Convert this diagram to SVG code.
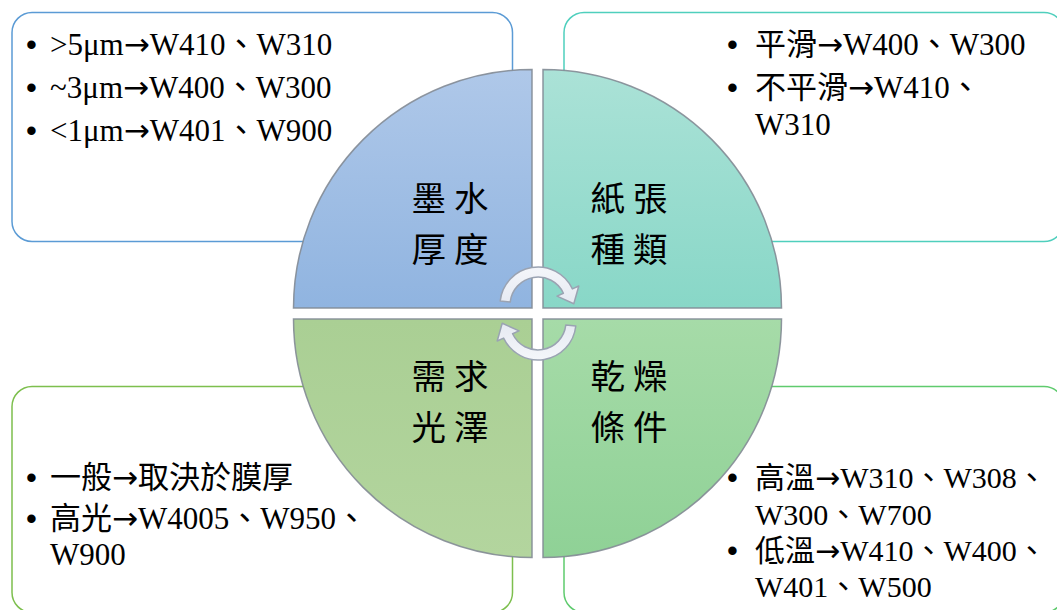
<svg xmlns="http://www.w3.org/2000/svg" width="1057" height="610" viewBox="0 0 1057 610">
<style>
  .box { fill: #ffffff; stroke-width: 1.5; }
  .quad { stroke: #838b95; stroke-width: 1.5; stroke-opacity: 0.9; }
  .txt { font-family: "Liberation Serif", "Noto Sans CJK TC", serif; font-size: 31px; fill: #000000; }
  .sm { font-size: 30px; }
  .ar { font-family: "DejaVu Sans", sans-serif; }
  .bul { font-family: "Liberation Sans", "Noto Sans", sans-serif; font-size: 31px; fill: #000000; }
  .lbl { font-family: "Noto Sans CJK TC", "Noto Sans CJK SC", sans-serif; font-size: 34.5px; fill: #000000; text-anchor: middle; letter-spacing: 8px; }
  .arrow { fill: url(#gArrow); stroke: #9aa3b2; stroke-width: 1.5; stroke-linejoin: round; }
</style>
<defs>
  <linearGradient id="gBlue" x1="0" y1="0" x2="0" y2="1">
    <stop offset="0" stop-color="#afc8e9"/>
    <stop offset="1" stop-color="#90b4e0"/>
  </linearGradient>
  <linearGradient id="gTeal" x1="0" y1="0" x2="0" y2="1">
    <stop offset="0" stop-color="#abe2d7"/>
    <stop offset="1" stop-color="#88d7c7"/>
  </linearGradient>
  <linearGradient id="gGreenL" x1="0" y1="0" x2="0" y2="1">
    <stop offset="0" stop-color="#aacf94"/>
    <stop offset="1" stop-color="#b3d59e"/>
  </linearGradient>
  <linearGradient id="gGreenR" x1="0" y1="0" x2="0" y2="1">
    <stop offset="0" stop-color="#a6dba8"/>
    <stop offset="1" stop-color="#8fd196"/>
  </linearGradient>
  <linearGradient id="gArrow" x1="0" y1="0" x2="0" y2="1">
    <stop offset="0" stop-color="#f4f6fa"/>
    <stop offset="1" stop-color="#e6eaf2"/>
  </linearGradient>
</defs>

<g id="node-ink">
  <rect class="box" x="12" y="12.5" width="500.5" height="229" rx="20" ry="20" stroke="#5b9bd5"/>
  <text class="bul" x="26" y="55">•</text>
  <text class="txt" x="50" y="55">&gt;5μm<tspan class="ar">→</tspan>W410、W310</text>
  <text class="bul" x="26" y="98">•</text>
  <text class="txt" x="50" y="98">~3μm<tspan class="ar">→</tspan>W400、W300</text>
  <text class="bul" x="26" y="141">•</text>
  <text class="txt" x="50" y="141">&lt;1μm<tspan class="ar">→</tspan>W401、W900</text>
  <path class="quad" fill="url(#gBlue)" d="M532 308 L293.5 308 A238.5 238.5 0 0 1 532 69.5 Z"/>
  <text class="lbl" x="454" y="211">墨水</text>
  <text class="lbl" x="454" y="262">厚度</text>
</g>

<g id="node-paper">
  <rect class="box" x="564" y="12.5" width="500" height="229" rx="20" ry="20" stroke="#4fcfbd"/>
  <text class="bul" x="727" y="55">•</text>
  <text class="txt" x="755" y="55">平滑<tspan class="ar">→</tspan>W400、W300</text>
  <text class="bul" x="727" y="98">•</text>
  <text class="txt" x="755" y="98">不平滑<tspan class="ar">→</tspan>W410、<tspan x="755" dy="37">W310</tspan></text>
  <path class="quad" fill="url(#gTeal)" d="M543 308 L543 69.5 A238.5 238.5 0 0 1 781.5 308 Z"/>
  <text class="lbl" x="633" y="211">紙張</text>
  <text class="lbl" x="633" y="262">種類</text>
</g>

<g id="node-gloss">
  <rect class="box" x="12" y="386.5" width="500.5" height="226" rx="20" ry="20" stroke="#7dbf4e"/>
  <text class="bul" x="26" y="488">•</text>
  <text class="txt" x="50" y="488">一般<tspan class="ar">→</tspan>取決於膜厚</text>
  <text class="bul" x="26" y="529">•</text>
  <text class="txt" x="50" y="529">高光<tspan class="ar">→</tspan>W4005、W950、<tspan x="50" dy="36">W900</tspan></text>
  <path class="quad" fill="url(#gGreenL)" d="M532 319 L532 557.5 A238.5 238.5 0 0 1 293.5 319 Z"/>
  <text class="lbl" x="454" y="389">需求</text>
  <text class="lbl" x="454" y="440">光澤</text>
</g>

<g id="node-dry">
  <rect class="box" x="564" y="386.5" width="500" height="226" rx="20" ry="20" stroke="#5fcb6e"/>
  <text class="bul" x="727" y="488">•</text>
  <text class="txt sm" x="755" y="488">高溫<tspan class="ar">→</tspan>W310、W308、<tspan x="755" dy="37">W300、W700</tspan></text>
  <text class="bul" x="727" y="561">•</text>
  <text class="txt sm" x="755" y="561">低溫<tspan class="ar">→</tspan>W410、W400、<tspan x="755" dy="36">W401、W500</tspan></text>
  <path class="quad" fill="url(#gGreenR)" d="M543 319 L781.5 319 A238.5 238.5 0 0 1 543 557.5 Z"/>
  <text class="lbl" x="633" y="389">乾燥</text>
  <text class="lbl" x="633" y="440">條件</text>
</g>

<g id="connectors">
  <path id="arrow-top" class="arrow" d="M500.2 301 A38 38 0 0 1 572.4 288.9 L578.8 286 L573.8 303.8 L557 296.1 L563.4 293.2 A28 28 0 0 0 510.2 302.1 Z"/>
  <path id="arrow-bottom" class="arrow" transform="rotate(180 538 313.5)" d="M500.2 301 A38 38 0 0 1 572.4 288.9 L578.8 286 L573.8 303.8 L557 296.1 L563.4 293.2 A28 28 0 0 0 510.2 302.1 Z"/>
</g>
</svg>
